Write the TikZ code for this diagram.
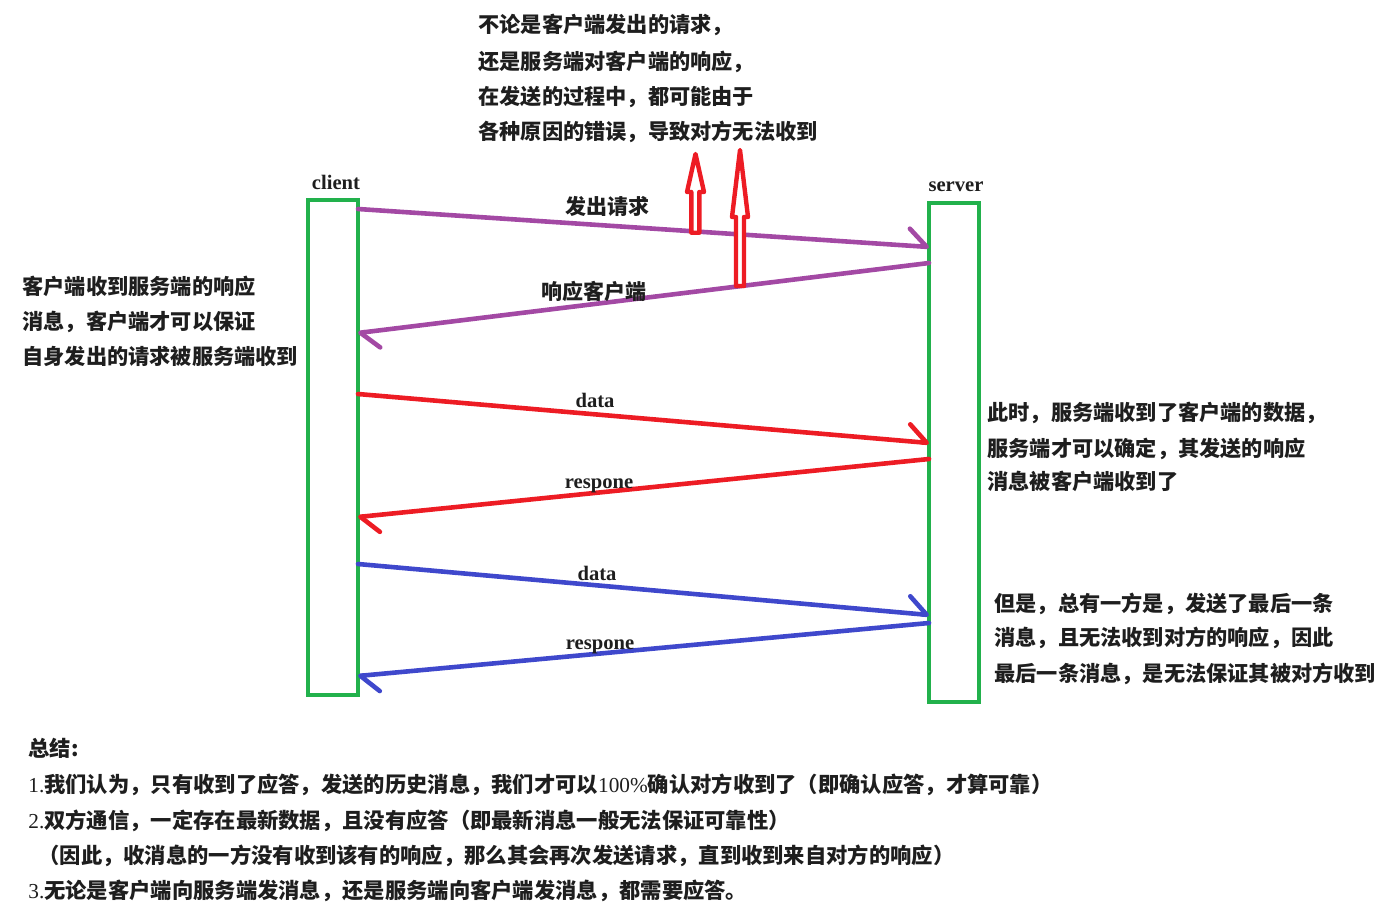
\documentclass[tikz,border=0pt]{standalone}
\usepackage{fontspec}
\setmainfont{Liberation Serif}
\newfontfamily\cjk{Noto Sans CJK SC}
\usetikzlibrary{arrows.meta}
\definecolor{lgreen}{HTML}{22B14C}
\definecolor{lpurple}{HTML}{A349A4}
\definecolor{lred}{HTML}{ED1C24}
\definecolor{lblue}{HTML}{3F48CC}
\definecolor{txt}{HTML}{1E1E1E}
\newcommand\latn[1]{{\rmfamily\mdseries #1}}
\begin{document}
\begin{tikzpicture}[x=0.5pt,y=-0.5pt,
  lifeline/.style={draw=lgreen, line width=2.3pt, minimum width=25pt, inner sep=0pt, outer sep=0pt},
  msg/.style={line width=2.3pt, line cap=round, -{Straight Barb[harpoon, round, length=9pt, width=17pt]}},
  zh/.style={font=\cjk\bfseries\fontsize{10.6}{12}\selectfont, inner sep=0pt, anchor=base west, text=txt},
  zhb/.style={font=\cjk\bfseries\fontsize{10.65}{12}\selectfont, inner sep=0pt, anchor=base west, text=txt},
  zhc/.style={font=\cjk\bfseries\fontsize{10.5}{12}\selectfont, inner sep=0pt, anchor=base, text=txt},
  lbl/.style={font=\rmfamily\bfseries\fontsize{10.3}{12}\selectfont, inner sep=0pt, anchor=base, text=txt},
  hollow/.style={draw=lred, line width=2.2pt, line join=round, fill=white}
]
\useasboundingbox (0,0) rectangle (1384,904);

% lifelines
\node[lifeline, minimum height=247.5pt] (cbox) at (333,447.5) {};
\node[lifeline, minimum height=249.5pt] (sbox) at (954,452.5) {};
\node[lbl] (clab) at (336,189) {client};
\node[lbl] (slab) at (956,191) {server};

% messages
\draw[msg, lpurple] (cbox.east |- 0,209) -- (sbox.west |- 0,247);
\draw[msg, lpurple] (sbox.west |- 0,263) -- (cbox.east |- 0,333);
\draw[msg, lred] (cbox.east |- 0,394) -- (sbox.west |- 0,443);
\draw[msg, lred] (sbox.west |- 0,459) -- (cbox.east |- 0,517);
\draw[msg, lblue] (cbox.east |- 0,564) -- (sbox.west |- 0,615);
\draw[msg, lblue] (sbox.west |- 0,623) -- (cbox.east |- 0,676);

% message labels
\node[zhc] (m1) at (607,214.5) {发出请求};
\node[zhc] (m2) at (594,299.5) {响应客户端};
\node[lbl] (m3) at (595,407) {data};
\node[lbl] (m4) at (599,488) {respone};
\node[lbl] (m5) at (597,580) {data};
\node[lbl] (m6) at (600,649) {respone};

% hollow red arrows
\draw[hollow] (691.3,232.7) -- (691.3,192) -- (687,192) -- (695.5,154) -- (704,192) -- (699.3,192) -- (699.3,232.7) -- cycle;
\draw[hollow] (736,286) -- (736,217) -- (732,217) -- (740,150) -- (748,217) -- (744,217) -- (744,286) -- cycle;

% top text
\node[zh] (t1) at (478,33) {不论是客户端发出的请求，};
\node[zh] (t2) at (478,69) {还是服务端对客户端的响应，};
\node[zh] (t3) at (478,104.5) {在发送的过程中，都可能由于};
\node[zh] (t4) at (478,139) {各种原因的错误，导致对方无法收到};

% left text
\node[zh] (l1) at (22,294.5) {客户端收到服务端的响应};
\node[zh] (l2) at (22,329.5) {消息，客户端才可以保证};
\node[zh] (l3) at (22,364.5) {自身发出的请求被服务端收到};

% right text 1
\node[zh] (r1) at (987,420) {此时，服务端收到了客户端的数据，};
\node[zh] (r2) at (987,456) {服务端才可以确定，其发送的响应};
\node[zh] (r3) at (987,489) {消息被客户端收到了};

% right text 2
\node[zh] (q1) at (994,611) {但是，总有一方是，发送了最后一条};
\node[zh] (q2) at (994,645.5) {消息，且无法收到对方的响应，因此};
\node[zh] (q3) at (994,681) {最后一条消息，是无法保证其被对方收到};

% summary
\node[zhb] (b0) at (28,756) {总结:};
\node[zhb] (b1) at (28,792) {\latn{1.}我们认为，只有收到了应答，发送的历史消息，我们才可以\latn{100\%}确认对方收到了（即确认应答，才算可靠）};
\node[zhb] (b2) at (28,828) {\latn{2.}双方通信，一定存在最新数据，且没有应答（即最新消息一般无法保证可靠性）};
\node[zhb] (b3) at (38,863) {（因此，收消息的一方没有收到该有的响应，那么其会再次发送请求，直到收到来自对方的响应）};
\node[zhb] (b4) at (28,898) {\latn{3.}无论是客户端向服务端发消息，还是服务端向客户端发消息，都需要应答。};
\end{tikzpicture}
\end{document}
